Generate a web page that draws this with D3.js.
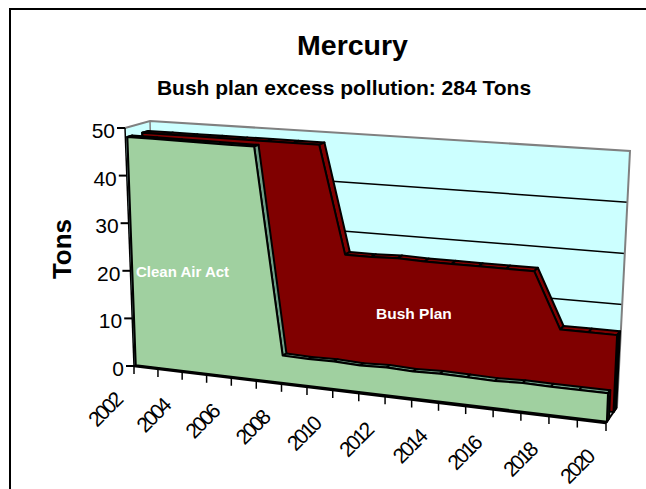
<!DOCTYPE html>
<html>
<head>
<meta charset="utf-8">
<script src="https://cdn.jsdelivr.net/npm/d3@7"></script>
<style>
  html, body { margin: 0; padding: 0; background: #fff; }
  text { font-family: "Liberation Sans", Arial, sans-serif; }
</style>
</head>
<body>
<div id="chart"></div>
<script>
var svgWidth = 646;
var svgHeight = 489;

var years = [2002, 2003, 2004, 2005, 2006, 2007, 2008, 2009, 2010, 2011, 2012, 2013, 2014, 2015, 2016, 2017, 2018, 2019, 2020];
var yearLabels = [2002, 2004, 2006, 2008, 2010, 2012, 2014, 2016, 2018, 2020];
var tonTicks = [0, 10, 20, 30, 40, 50];
var cleanAirAct = [48, 48, 48, 48, 48, 48, 5.6, 5.5, 5.6, 5.4, 5.6, 5.4, 5.6, 5.5, 5.4, 5.6, 5.5, 5.5, 5.5];
var bushPlan = [48, 48, 48, 48, 48, 48, 48, 48, 26, 26, 26.2, 26, 26, 26, 26, 26, 15, 15, 15];

// corners of the 3d box, as it sits on the page
var box = {
  flb: [134, 366], flt: [125, 128], frb: [606, 423], frt: [616, 165],
  blb: [156, 358], blt: [150, 121], brb: [617, 407], brt: [630, 151]
};

var yearScale = d3.scaleLinear().domain([2002, 2020]).range([0, 1]);
var tonScale = d3.scaleLinear().domain([0, 50]).range([0, 1]);

function mix(a, b, t) {
  return [a[0] + (b[0] - a[0]) * t, a[1] + (b[1] - a[1]) * t];
}

// year, tons, depth (0 front, 1 back wall) -> page position
function project(year, tons, depth) {
  var t = yearScale(year);
  t = t / (1.1 - 0.1 * t); // perspective, ticks get wider to the right
  var v = tonScale(tons);
  var front = mix(mix(box.flb, box.flt, v), mix(box.frb, box.frt, v), t);
  var back = mix(mix(box.blb, box.blt, v), mix(box.brb, box.brt, v), t);
  return mix(front, back, depth);
}

var line = d3.line();

var svg = d3.select("#chart")
  .append("svg")
  .attr("width", svgWidth)
  .attr("height", svgHeight)
  .style("display", "block");

// frame
svg.append("path")
  .attr("d", "M10,489V9H646")
  .attr("fill", "none")
  .attr("stroke", "#000")
  .attr("stroke-width", 2);

svg.append("text")
  .attr("x", 352.5)
  .attr("y", 55)
  .attr("text-anchor", "middle")
  .style("font-size", "28.5px")
  .style("font-weight", "bold")
  .text("Mercury");

svg.append("text")
  .attr("x", 344)
  .attr("y", 95)
  .attr("text-anchor", "middle")
  .style("font-size", "21px")
  .style("font-weight", "bold")
  .text("Bush plan excess pollution: 284 Tons");

svg.append("text")
  .attr("transform", "translate(71, 249) rotate(-90)")
  .attr("text-anchor", "middle")
  .style("font-size", "26px")
  .style("font-weight", "bold")
  .text("Tons");

// walls
var walls = svg.append("g");
walls.append("path")
  .attr("d", line([box.flb, box.flt, box.blt, box.blb]) + "Z")
  .attr("fill", "#ccffff");
walls.append("path")
  .attr("d", line([box.blb, box.blt, box.brt, box.brb]) + "Z")
  .attr("fill", "#ccffff");

tonTicks.slice(1, 5).forEach(function(d) {
  walls.append("path")
    .attr("d", line([project(2002, d, 1), project(2020, d, 1)]))
    .attr("stroke", "#000")
    .attr("stroke-width", 1.5)
    .attr("fill", "none");
});

walls.append("path")
  .attr("d", line([box.flt, box.blt, box.brt, box.brb]))
  .attr("fill", "none")
  .attr("stroke", "#808080")
  .attr("stroke-width", 2);
walls.append("path")
  .attr("d", line([box.blt, box.blb]))
  .attr("fill", "none")
  .attr("stroke", "#808080")
  .attr("stroke-width", 1.5);

// one 3d area: top faces first, then end face, then front face
function drawArea(values, depthFront, depthBack, faceColor, topColor, endColor) {
  var g = svg.append("g")
    .attr("stroke", "#000")
    .attr("stroke-linejoin", "round")
    .attr("stroke-width", 2);

  values.forEach(function(v, i) {
    if (i === 0) return;
    g.append("path")
      .attr("d", line([
        project(years[i - 1], values[i - 1], depthFront),
        project(years[i - 1], values[i - 1], depthBack),
        project(years[i], v, depthBack),
        project(years[i], v, depthFront)
      ]) + "Z")
      .attr("fill", topColor);
  });

  var last = years.length - 1;
  g.append("path")
    .attr("d", line([
      project(years[last], 0, depthFront),
      project(years[last], values[last], depthFront),
      project(years[last], values[last], depthBack),
      project(years[last], 0, depthBack)
    ]) + "Z")
    .attr("fill", endColor);

  // left end face, seen on the inside of the side wall
  g.append("path")
    .attr("d", line([
      project(years[0], 0, depthFront),
      project(years[0], values[0], depthFront),
      project(years[0], values[0], depthBack),
      project(years[0], 0, depthBack)
    ]) + "Z")
    .attr("fill", topColor);

  var outline = years.map(function(y, i) { return project(y, values[i], depthFront); });
  outline.unshift(project(years[0], 0, depthFront));
  outline.push(project(years[last], 0, depthFront));
  g.append("path")
    .attr("d", line(outline) + "Z")
    .attr("fill", faceColor);
}

drawArea(bushPlan, 0.68, 0.93, "#800000", "#800000", "#000");

// right edge of the floor
svg.append("path")
  .attr("d", line([box.frb, box.brb]))
  .attr("stroke", "#000")
  .attr("stroke-width", 2);

drawArea(cleanAirAct, 0.08, 0.28, "#a0d0a0", "#6f9f86", "#6f9f86");

// axes, pushed through the box projection
var axisColor = "#000";
svg.append("path")
  .attr("d", line([project(2002, 0, 0), project(2020, 0, 0)]))
  .attr("stroke", axisColor)
  .attr("stroke-width", 2.5);
svg.append("path")
  .attr("d", line([project(2002, 0, 0), project(2002, 50, 0)]))
  .attr("stroke", axisColor)
  .attr("stroke-width", 1.5);

years.forEach(function(y) {
  var p = project(y, 0, 0);
  svg.append("line")
    .attr("x1", p[0]).attr("y1", p[1])
    .attr("x2", p[0]).attr("y2", p[1] + 8)
    .attr("stroke", axisColor)
    .attr("stroke-width", 1.5);
});

yearLabels.forEach(function(y) {
  var p = project(y, 0, 0);
  svg.append("text")
    .attr("transform", "translate(" + (p[0] - 11) + "," + (p[1] + 36) + ") rotate(-45)")
    .attr("text-anchor", "end")
    .style("font-size", "21px")
    .style("letter-spacing", "-2.5px")
    .text(y);
});

tonTicks.forEach(function(d) {
  var p = project(2002, d, 0);
  svg.append("line")
    .attr("x1", p[0] - 8).attr("y1", p[1])
    .attr("x2", p[0]).attr("y2", p[1])
    .attr("stroke", axisColor)
    .attr("stroke-width", 2);
  svg.append("text")
    .attr("x", p[0] - 10)
    .attr("y", p[1] + 10)
    .attr("text-anchor", "end")
    .style("font-size", "21px")
    .text(d);
});

// series labels
svg.append("text")
  .attr("x", 136)
  .attr("y", 277)
  .attr("fill", "#fff")
  .style("font-size", "15px")
  .style("font-weight", "bold")
  .text("Clean Air Act");

svg.append("text")
  .attr("x", 376)
  .attr("y", 319)
  .attr("fill", "#fff")
  .style("font-size", "15.5px")
  .style("font-weight", "bold")
  .text("Bush Plan");
</script>
</body>
</html>
